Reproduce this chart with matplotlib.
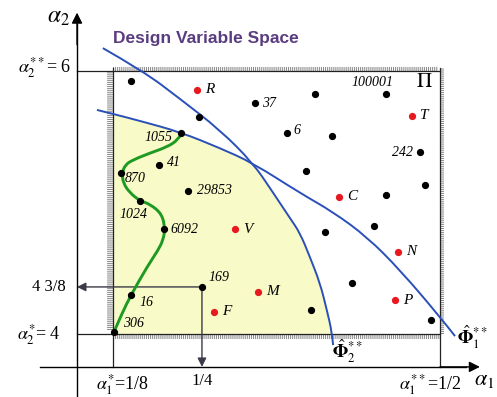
import matplotlib
matplotlib.use("Agg")
import matplotlib.pyplot as plt
from matplotlib.path import Path
import matplotlib.patches as patches

plt.rcParams['mathtext.fontset'] = 'stix'
plt.rcParams['font.family'] = ['Liberation Serif', 'DejaVu Serif']
plt.rcParams['lines.scale_dashes'] = False

# box coordinates: alpha1 from 1/8 (0) to 1/2 (100), alpha2 from 4 (0) to 6 (100)
black_u = [5.5, 26.3, 20.8, 14.1, 2.4, 22.9, 8.3, 15.6, 27.2, 5.5, 0.3,
           43.4, 61.8, 83.5, 53.2, 67.0, 93.9, 59.0, 95.4, 83.5, 64.8, 79.8,
           73.1, 60.6, 97.2]
black_v = [96.2, 82.5, 76.4, 64.3, 61.2, 54.4, 50.6, 39.9, 17.9, 14.8, 0.8,
           87.8, 91.3, 91.3, 76.4, 75.3, 69.2, 62.0, 56.7, 52.9, 38.8, 41.1,
           19.4, 9.1, 5.3]
black_lbl = ['', '', '1055', '41', '870', '29853', '1024', '6092', '169', '16',
             '306', '37', '', '100001', '6', '', '242', '', '', '', '', '',
             '', '', '']

red_u = [25.7, 91.4, 69.1, 37.3, 87.2, 44.3, 86.2, 30.9]
red_v = [92.8, 82.9, 52.1, 39.9, 31.2, 16.0, 12.9, 8.4]
red_lbl = ['R', 'T', 'C', 'V', 'N', 'M', 'P', 'F']

# Phi_2** (steep) and Phi_1** (shallow) boundaries
phi2_u = [-3.1, 9.2, 20.5, 32.7, 42.8, 48.6, 54.1, 57.2, 60.2, 63.3, 65.4, 67.0, 67.3]
phi2_v = [108.7, 100.0, 89.4, 77.6, 65.0, 54.4, 44.1, 38.4, 29.3, 19.4, 9.1, 0.4, -4.2]
phi1_u = [-4.9, 0.0, 8.3, 20.5, 32.7, 42.8, 57.2, 67.3, 77.7, 87.8, 100.0, 104.6]
phi1_v = [85.2, 83.7, 81.0, 76.8, 70.7, 65.0, 53.6, 46.4, 36.9, 24.3, 6.5, -0.8]

# green path through the design points
path_u = [0.3, 2.8, 5.5, 10.4, 13.8, 15.3, 15.9, 15.0, 11.3, 8.3, 5.2, 3.1, 2.8,
          3.7, 6.1, 11.3, 16.5, 19.9, 21.1]
path_v = [0.8, 8.0, 14.8, 25.5, 31.9, 35.7, 39.9, 45.6, 49.4, 50.6, 53.6, 57.4,
          61.2, 64.3, 66.2, 68.8, 71.1, 73.8, 76.4]

# label offsets in pixels (dx, dy, ha)
black_off = {'1055': (-9, -4, 'right'), '41': (8, 2, 'left'), '870': (4, -5, 'left'),
             '29853': (9, 0, 'left'), '1024': (-21, -14, 'left'), '6092': (6, 0, 'left'),
             '169': (7, 9, 'left'), '16': (9, -7, 'left'), '306': (9, 8, 'left'),
             '37': (7, 0, 'left'), '100001': (7, 11, 'right'), '6': (6, 3, 'left'),
             '242': (-7, 0, 'right')}


def smooth_curve(xs, ys, **kw):
  # quadratic bezier pieces through the midpoints of the read points
  pts = list(zip(xs, ys))
  verts = [pts[0]]
  codes = [Path.MOVETO]
  for i in range(1, len(pts) - 1):
    mid = ((pts[i][0] + pts[i + 1][0]) / 2, (pts[i][1] + pts[i + 1][1]) / 2)
    if i == len(pts) - 2:
      mid = pts[-1]
    verts += [pts[i], mid]
    codes += [Path.CURVE3, Path.CURVE3]
  return patches.PathPatch(Path(verts, codes), fill=False, **kw)


fig = plt.figure(figsize=(4.97, 3.97), dpi=100)
ax = fig.add_axes([0, 0, 1, 1])
ax.set_xlim(-34.56, 117.43)
ax.set_ylim(-23.95, 127.0)
ax.axis('off')

# feasible region
poly_u, poly_v = [0, 67.1], [0, 0]
for u, v in zip(phi2_u[::-1], phi2_v[::-1]):
  if 0 < v < 65:
    poly_u.append(u); poly_v.append(v)
for u, v in zip(phi1_u[::-1], phi1_v[::-1]):
  if 0 <= u <= 42.8:
    poly_u.append(u); poly_v.append(v)
ax.fill(poly_u, poly_v, color='#f8fac8', lw=0, zorder=1)

# hatched frame
hat = dict(color='#8a8a8a', dashes=[0.7, 0.7], solid_capstyle='butt', zorder=2)
ax.plot([-0.9, -0.9], [1.5, 100], lw=4.2, **hat)
ax.plot([0, 100], [-1.1, -1.1], lw=2.9, **hat)
ax.plot([0, 99.5], [100.9, 100.9], lw=2.9, **hat)
ax.plot([100.7, 100.7], [0, 101], lw=2.9, **hat)

# frame lines
fr = dict(color='#222222', lw=0.9, zorder=3)
ax.plot([-11, 100], [100, 100], **fr)
ax.plot([-11, 100], [0, 0], **fr)
ax.plot([0, 0], [-12.5, 101.2], **fr)
ax.plot([100, 100], [-12.5, 101.2], **fr)

# axes with arrows
ax.plot([-11, -11], [-23.95, 118], color='black', lw=1.0, zorder=3)
ax.plot([-22.3, 108], [-12.5, -12.5], color='black', lw=1.0, zorder=3)
ax.annotate('', xy=(-11, 122.2), xytext=(-11, 110), zorder=4,
            arrowprops=dict(arrowstyle='-|>', color='black', lw=1.0,
                            mutation_scale=16, shrinkA=0, shrinkB=0))
ax.annotate('', xy=(112.2, -12.5), xytext=(100, -12.5), zorder=4,
            arrowprops=dict(arrowstyle='-|>', color='black', lw=1.0,
                            mutation_scale=16, shrinkA=0, shrinkB=0))

# projection arrows from design 169
pu, pv = black_u[8], black_v[8]
ar = dict(arrowstyle='-|>', color='#3a3a48', lw=1.0, mutation_scale=13,
          shrinkA=0, shrinkB=0)
ax.annotate('', xy=(-11, pv), xytext=(pu, pv), arrowprops=ar, zorder=4)
ax.annotate('', xy=(pu, -12.5), xytext=(pu, pv), arrowprops=ar, zorder=4)

# curves
ax.add_patch(smooth_curve(phi2_u, phi2_v, edgecolor='#2a4fb8', lw=1.4, zorder=5))
ax.add_patch(smooth_curve(phi1_u, phi1_v, edgecolor='#2a4fb8', lw=1.4, zorder=5))
ax.add_patch(smooth_curve(path_u, path_v, edgecolor='#1e9a22', lw=2.1, zorder=6,
                          joinstyle='round', capstyle='round'))

# points
ax.plot(black_u, black_v, 'o', color='black', ms=4.2, zorder=7)
ax.plot(red_u, red_v, 'o', color='#e8191e', ms=4.2, zorder=7)

for u, v, t in zip(black_u, black_v, black_lbl):
  if t:
    dx, dy, ha = black_off[t]
    ax.annotate(t, (u, v), xytext=(dx, dy), textcoords='offset pixels',
                ha=ha, va='center', fontsize=10, style='italic', zorder=8)
for u, v, t in zip(red_u, red_v, red_lbl):
  ax.annotate(t, (u, v), xytext=(8, 0), textcoords='offset pixels',
              ha='left', va='center', fontsize=11, style='italic', zorder=8)

# labels
ax.text(0, 112.5, 'Design Variable Space', family='Liberation Sans', weight='bold',
        fontsize=12.5, color='#5a3c80', ha='left', va='center')
ax.text(95.1, 95.8, r'$\Pi$', fontsize=15, ha='center', va='center')
ax.text(-16.8, 120.5, r'$\alpha_2$', fontsize=17, ha='center', va='center')
ax.text(113.6, -17.5, r'$\alpha_1$', fontsize=16, ha='center', va='center')
ax.text(-12.8, 101.3, r'$\alpha_2^{**}$= 6', fontsize=13, ha='right', va='center')
ax.text(-14.4, 17.9, '4 3/8', fontsize=12, ha='right', va='center')
ax.text(-16.0, -0.4, r'$\alpha_2^{*}$= 4', fontsize=13, ha='right', va='center')
ax.text(2.8, -19.4, r'$\alpha_1^{*}$=1/8', fontsize=13, ha='center', va='center')
ax.text(pu, -17.9, '1/4', fontsize=12, ha='center', va='center')
ax.text(96.9, -19.4, r'$\alpha_1^{**}$=1/2', fontsize=13, ha='center', va='center')
ax.text(71.6, -6.8, r'$\hat{\mathbf{\Phi}}_2^{**}$', fontsize=13, ha='center', va='center')
ax.text(109.8, -1.5, r'$\hat{\mathbf{\Phi}}_1^{**}$', fontsize=13, ha='center', va='center')

fig.savefig('out.png', dpi=100)
